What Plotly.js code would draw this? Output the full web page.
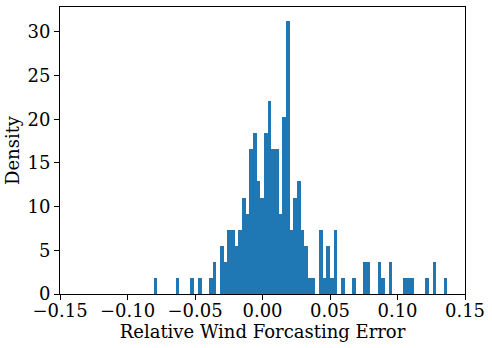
<!DOCTYPE html>
<html>
<head>
<meta charset="utf-8">
<script src="https://cdn.plot.ly/plotly-3.0.1.min.js"></script>
<style>
  html, body { margin: 0; padding: 0; background: #fff; }
  #chart { width: 492px; height: 348px; }
</style>
</head>
<body>
<div id="chart"></div>
<script>
// histogram of 200 relative errors, 80 equal bins
var nSamples = 200;
var binStart = -0.0805;
var binEnd = 0.1368;
var nBins = 80;
var binCounts = [
  1, 0, 0, 0, 0, 0, 1, 0, 0, 0,
  1, 0, 1, 0, 0, 1, 2, 0, 3, 2,
  4, 4, 3, 4, 6, 5, 9, 10, 7, 6,
  10, 12, 9, 9, 5, 11, 17, 4, 6, 7,
  4, 3, 1, 1, 0, 4, 1, 3, 1, 4,
  0, 1, 0, 0, 1, 0, 0, 2, 2, 0,
  0, 2, 1, 0, 2, 0, 0, 0, 1, 1,
  1, 0, 0, 0, 1, 0, 2, 0, 0, 1
];

var binWidth = (binEnd - binStart) / nBins;
var centers = binCounts.map(function (c, i) { return binStart + binWidth * (i + 0.5); });
var density = binCounts.map(function (c) { return c / (nSamples * binWidth); });
var yTop = Math.max.apply(null, density) * 1.05;

var font = { family: 'DejaVu Serif, serif', size: 18, color: '#000' };

var trace = {
    x: centers,
    y: density,
    type: 'bar',
    width: binWidth,
    marker: { color: '#1f77b4', line: { width: 0 } },
    hoverinfo: 'x+y'
};

var layout = {
    width: 492,
    height: 348,
    margin: { l: 60, r: 27, t: 7, b: 54 },
    paper_bgcolor: '#fff',
    plot_bgcolor: '#fff',
    showlegend: false,
    bargap: 0,
    font: font,
    xaxis: {
        range: [-0.15, 0.15],
        tick0: -0.15, dtick: 0.05, tickformat: '.2f',
        ticks: 'outside', ticklen: 5, tickwidth: 1, tickcolor: '#000',
        ticklabelstandoff: -5,
        showline: true, linecolor: '#000', linewidth: 1, mirror: true,
        showgrid: false, zeroline: false,
        tickfont: font,
        title: { text: 'Relative Wind Forcasting Error', font: font, standoff: 0 }
    },
    yaxis: {
        range: [0, yTop],
        tick0: 0, dtick: 5,
        ticks: 'outside', ticklen: 5, tickwidth: 1, tickcolor: '#000',
        showline: true, linecolor: '#000', linewidth: 1, mirror: true,
        showgrid: false, zeroline: false,
        tickfont: font,
        title: { text: 'Density', font: font, standoff: 3 }
    }
};

Plotly.newPlot('chart', [trace], layout, { displayModeBar: false, staticPlot: true });
</script>
</body>
</html>
